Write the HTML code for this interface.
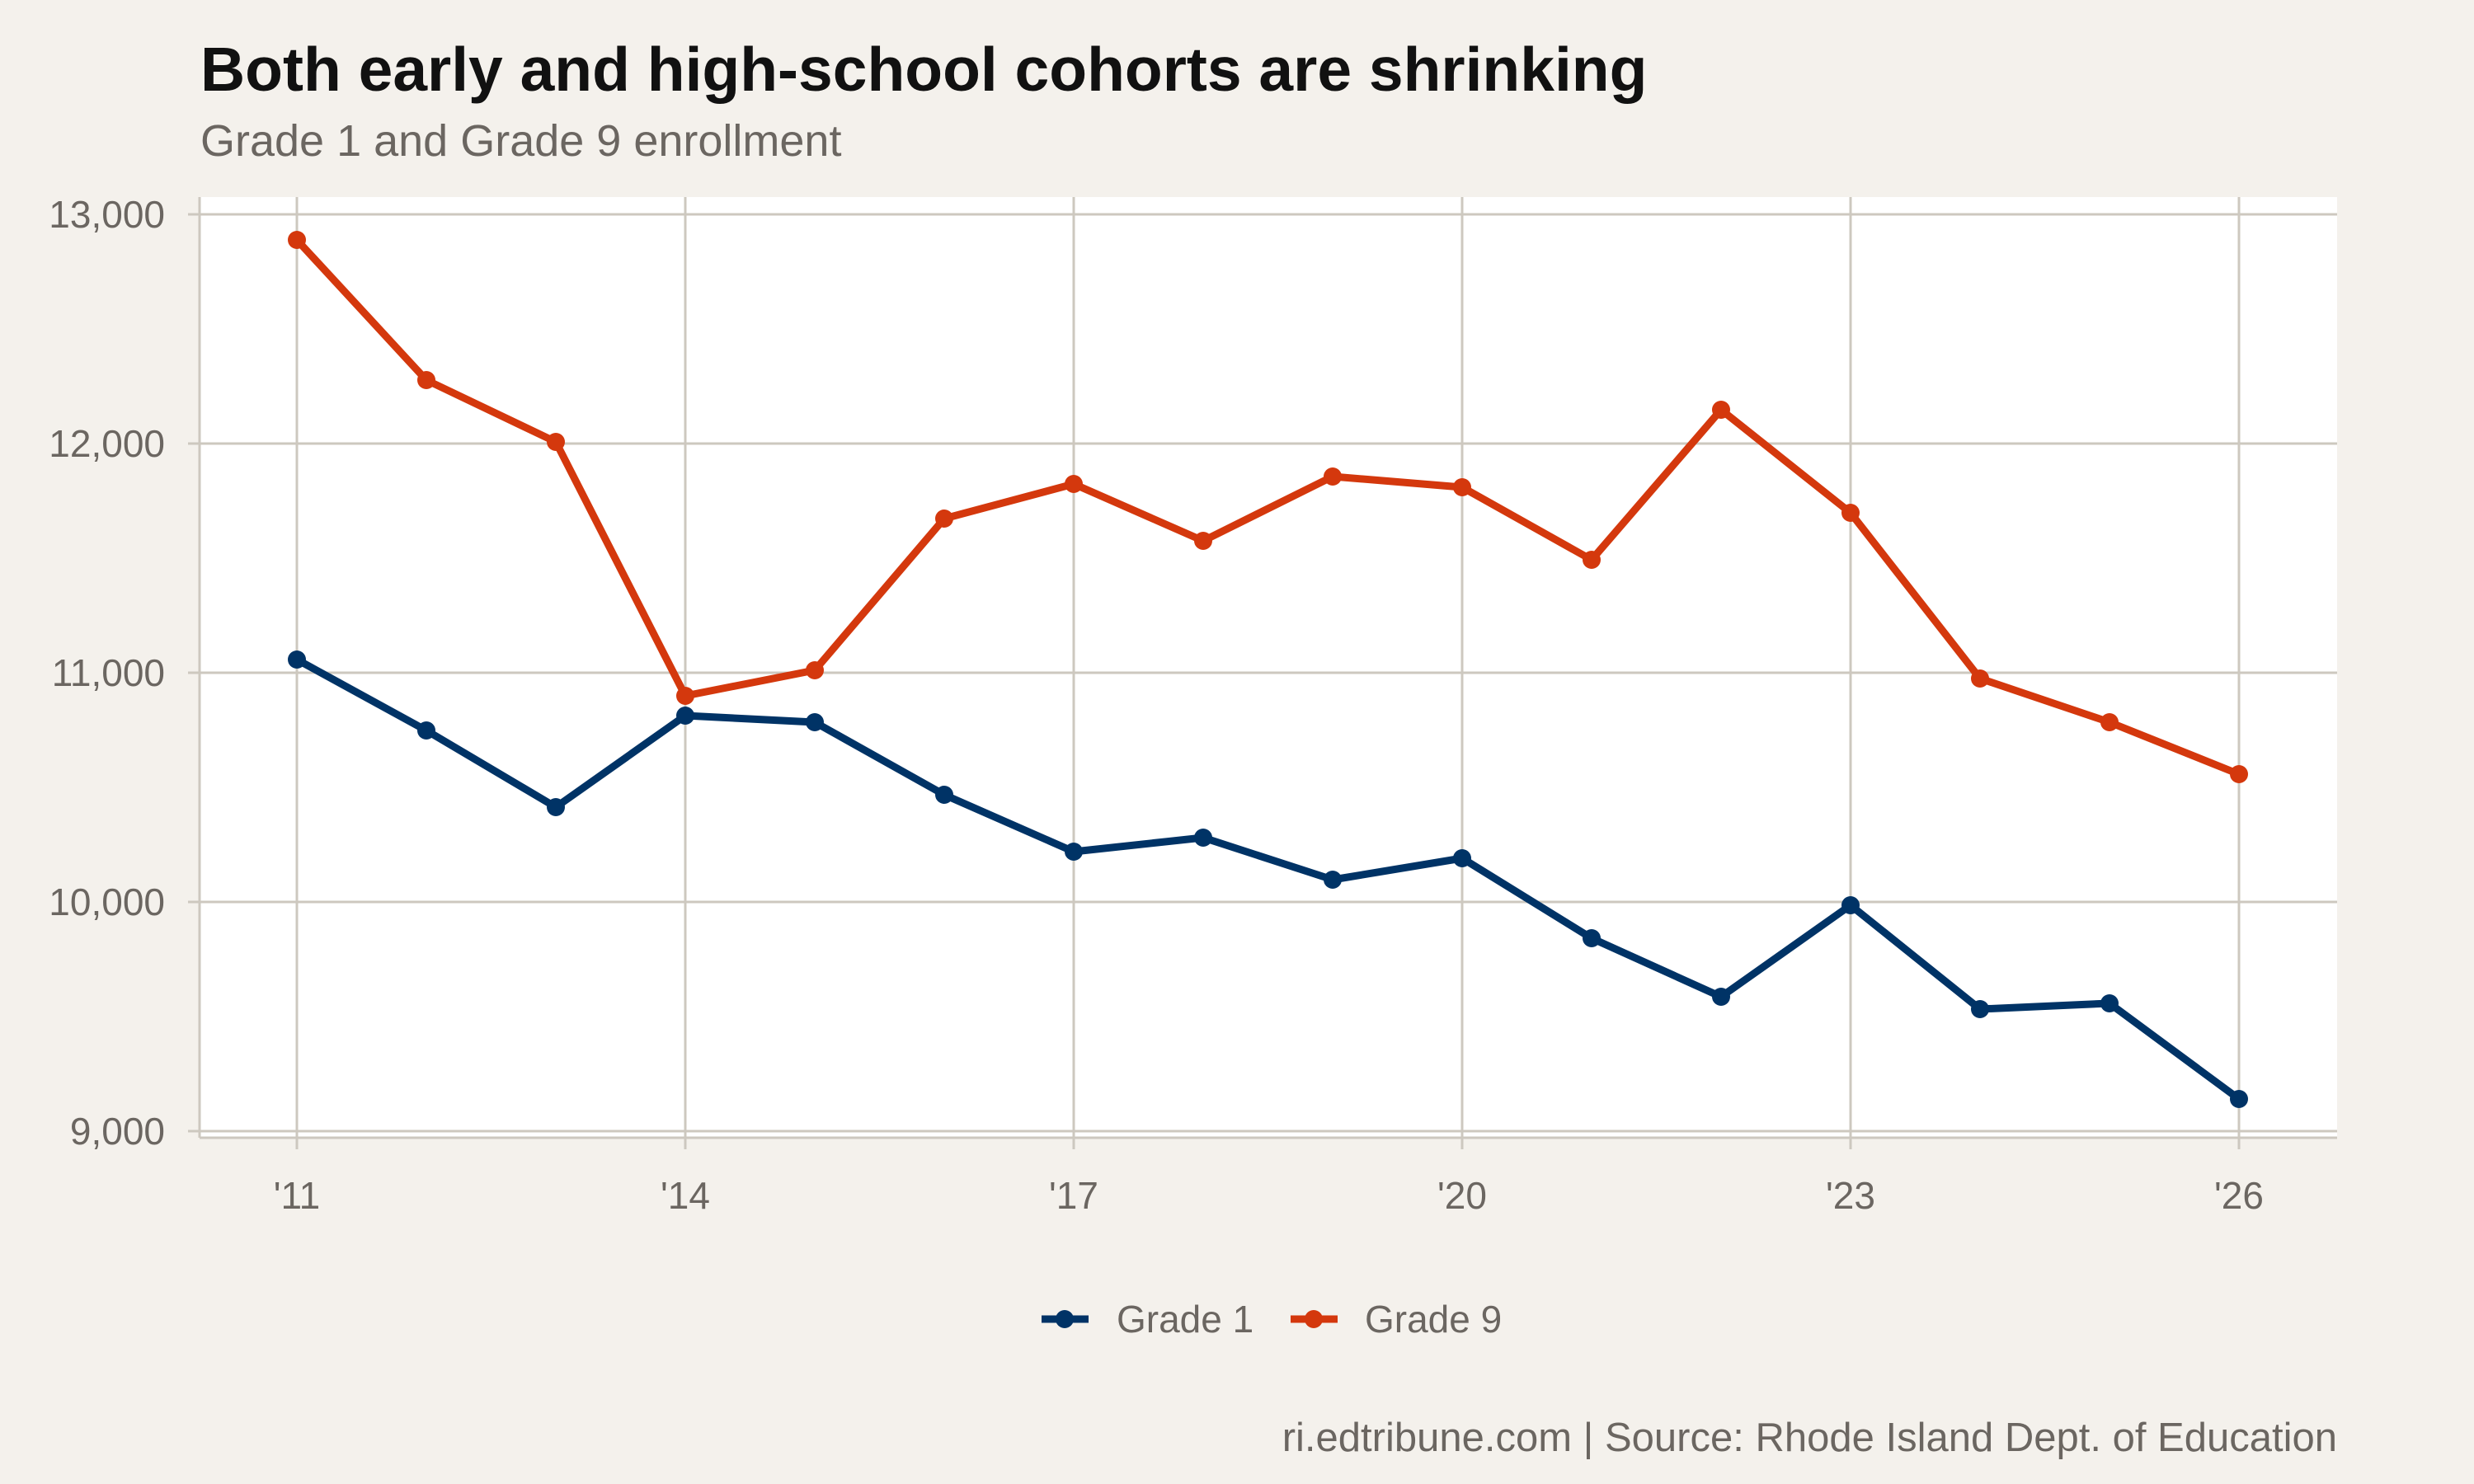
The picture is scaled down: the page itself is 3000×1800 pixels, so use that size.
<!DOCTYPE html>
<html><head><meta charset="utf-8"><style>
html,body{margin:0;padding:0;background:#f4f1ec;}
svg{display:block;font-family:"Liberation Sans",sans-serif;}
</style></head><body>
<svg width="3000" height="1800" viewBox="0 0 3000 1800" xmlns="http://www.w3.org/2000/svg">
<rect width="3000" height="1800" fill="#f4f1ec"/>
<text x="243" y="110" font-size="75" font-weight="bold" fill="#111">Both early and high-school cohorts are shrinking</text>
<text x="243" y="189" font-size="54" fill="#6b6661">Grade 1 and Grade 9 enrollment</text>
<rect x="242" y="239" width="2592" height="1141" fill="#fff"/>
<g stroke="#cdc8bf" stroke-width="3">
<line x1="228" y1="260" x2="2834" y2="260"/>
<line x1="228" y1="538" x2="2834" y2="538"/>
<line x1="228" y1="816" x2="2834" y2="816"/>
<line x1="228" y1="1094" x2="2834" y2="1094"/>
<line x1="228" y1="1372" x2="2834" y2="1372"/>
<line x1="360" y1="239" x2="360" y2="1394"/>
<line x1="831" y1="239" x2="831" y2="1394"/>
<line x1="1302" y1="239" x2="1302" y2="1394"/>
<line x1="1773" y1="239" x2="1773" y2="1394"/>
<line x1="2244" y1="239" x2="2244" y2="1394"/>
<line x1="2715" y1="239" x2="2715" y2="1394"/>
<line x1="242" y1="239" x2="242" y2="1380"/>
<line x1="242" y1="1380" x2="2834" y2="1380"/>
</g>
<g font-size="46" fill="#6b6661" text-anchor="end">
<text x="200" y="276">13,000</text>
<text x="200" y="554">12,000</text>
<text x="200" y="832">11,000</text>
<text x="200" y="1110">10,000</text>
<text x="200" y="1388">9,000</text>
</g>
<g font-size="46" fill="#6b6661" text-anchor="middle">
<text x="360" y="1466">'11</text>
<text x="831" y="1466">'14</text>
<text x="1302" y="1466">'17</text>
<text x="1773" y="1466">'20</text>
<text x="2244" y="1466">'23</text>
<text x="2715" y="1466">'26</text>
</g>
<polyline fill="none" stroke="#d4380d" stroke-width="9" stroke-linejoin="round" points="360,291 517,461 674,536 831,844 988,813 1145,629 1302,587 1459,656 1616,578 1773,591 1930,679 2087,497 2244,622 2401,823 2558,876 2715,939"/>
<g fill="#d4380d">
<circle cx="360" cy="291" r="11"/><circle cx="517" cy="461" r="11"/><circle cx="674" cy="536" r="11"/><circle cx="831" cy="844" r="11"/><circle cx="988" cy="813" r="11"/><circle cx="1145" cy="629" r="11"/><circle cx="1302" cy="587" r="11"/><circle cx="1459" cy="656" r="11"/><circle cx="1616" cy="578" r="11"/><circle cx="1773" cy="591" r="11"/><circle cx="1930" cy="679" r="11"/><circle cx="2087" cy="497" r="11"/><circle cx="2244" cy="622" r="11"/><circle cx="2401" cy="823" r="11"/><circle cx="2558" cy="876" r="11"/><circle cx="2715" cy="939" r="11"/>
</g>
<polyline fill="none" stroke="#003366" stroke-width="9" stroke-linejoin="round" points="360,800 517,886 674,979 831,868 988,876 1145,964 1302,1033 1459,1016 1616,1067 1773,1041 1930,1138 2087,1209 2244,1098 2401,1224 2558,1217 2715,1333"/>
<g fill="#003366">
<circle cx="360" cy="800" r="11"/><circle cx="517" cy="886" r="11"/><circle cx="674" cy="979" r="11"/><circle cx="831" cy="868" r="11"/><circle cx="988" cy="876" r="11"/><circle cx="1145" cy="964" r="11"/><circle cx="1302" cy="1033" r="11"/><circle cx="1459" cy="1016" r="11"/><circle cx="1616" cy="1067" r="11"/><circle cx="1773" cy="1041" r="11"/><circle cx="1930" cy="1138" r="11"/><circle cx="2087" cy="1209" r="11"/><circle cx="2244" cy="1098" r="11"/><circle cx="2401" cy="1224" r="11"/><circle cx="2558" cy="1217" r="11"/><circle cx="2715" cy="1333" r="11"/>
</g>
<line x1="1263" y1="1600" x2="1320" y2="1600" stroke="#003366" stroke-width="9"/>
<circle cx="1291" cy="1600" r="11" fill="#003366"/>
<text x="1354" y="1616" font-size="46" fill="#6b6661">Grade 1</text>
<line x1="1565" y1="1600" x2="1622" y2="1600" stroke="#d4380d" stroke-width="9"/>
<circle cx="1593" cy="1600" r="11" fill="#d4380d"/>
<text x="1655" y="1616" font-size="46" fill="#6b6661">Grade 9</text>
<text x="2834" y="1760" font-size="49" fill="#6b6661" text-anchor="end">ri.edtribune.com | Source: Rhode Island Dept. of Education</text>
</svg>
</body></html>
